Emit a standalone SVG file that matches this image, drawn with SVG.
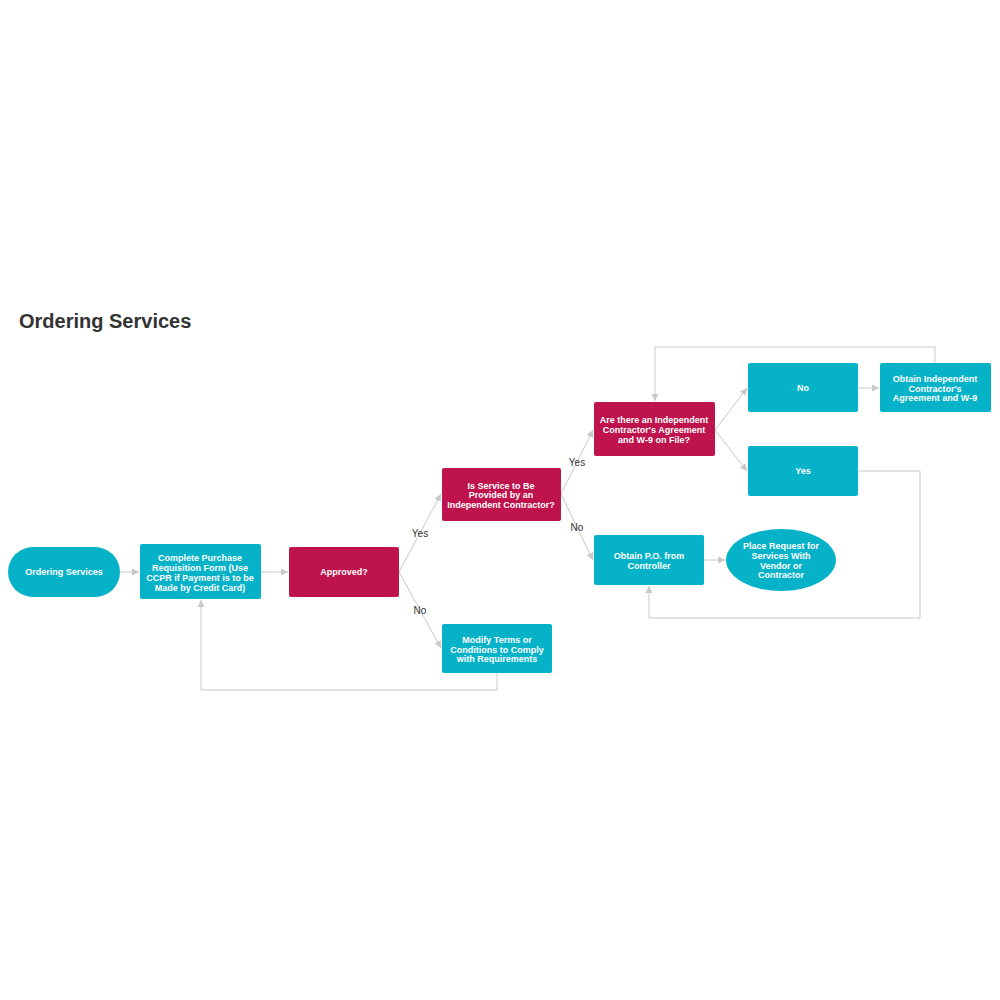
<svg xmlns="http://www.w3.org/2000/svg" width="1000" height="1000" viewBox="0 0 1000 1000">
<style>
.t{fill:#06b2c8}.c{fill:#be134d}
.lb{font-family:"Liberation Sans",Arial,sans-serif;font-size:9px;font-weight:bold;fill:#fff;text-anchor:middle}
.el{font-family:"Liberation Sans",Arial,sans-serif;font-size:10px;fill:#333;text-anchor:middle}
.ln{fill:none;stroke:#c8c8c8;stroke-width:1;marker-end:url(#a)}
</style>
<defs><marker id="a" markerWidth="8" markerHeight="8" refX="7" refY="4" orient="auto" markerUnits="userSpaceOnUse"><path d="M0,0.5 L7,4 L0,7.5z" fill="#c8c8c8"/></marker></defs>
<rect width="1000" height="1000" fill="#fff"/>
<text x="19" y="328" font-family="Liberation Sans,Arial,sans-serif" font-size="20" font-weight="bold" fill="#333">Ordering Services</text>
<g id="connectors">
<path class="ln" d="M120,572 H139"/>
<path class="ln" d="M261,572 H288"/>
<path class="ln" d="M399,572 L441,494"/>
<path class="ln" d="M399,572 L441,648"/>
<path class="ln" d="M497,673 V690 H201 V600"/>
<path class="ln" d="M561,494 L593,430"/>
<path class="ln" d="M561,494 L593,560"/>
<path class="ln" d="M715,430 L747,388"/>
<path class="ln" d="M715,430 L747,471"/>
<path class="ln" d="M858,388 H879"/>
<path class="ln" d="M935,363 V347 H655 V401"/>
<path class="ln" d="M858,471 H920 V618 H649 V586"/>
<path class="ln" d="M704,560 H725"/>
<text class="el" x="420" y="537">Yes</text>
<text class="el" x="420" y="614">No</text>
<text class="el" x="577" y="466">Yes</text>
<text class="el" x="577" y="531">No</text>
</g>
<g id="start"><rect class="t" x="8" y="547" width="112" height="50" rx="25"/><text class="lb" x="64" y="575">Ordering Services</text></g>
<g id="complete"><rect class="t" x="140" y="544" width="121" height="55" rx="2"/><text class="lb" x="200" y="561">Complete Purchase</text><text class="lb" x="200" y="571">Requisition Form (Use</text><text class="lb" x="200" y="581">CCPR if Payment is to be</text><text class="lb" x="200" y="591">Made by Credit Card)</text></g>
<g id="approved"><rect class="c" x="289" y="547" width="110" height="50" rx="2"/><text class="lb" x="344" y="575">Approved?</text></g>
<g id="isservice"><rect class="c" x="442" y="468" width="119" height="53" rx="2"/><text class="lb" x="501" y="489">Is Service to Be</text><text class="lb" x="501" y="498">Provided by an</text><text class="lb" x="501" y="508">Independent Contractor?</text></g>
<g id="modify"><rect class="t" x="442" y="624" width="110" height="49" rx="2"/><text class="lb" x="497" y="643">Modify Terms or</text><text class="lb" x="497" y="653">Conditions to Comply</text><text class="lb" x="497" y="662">with Requirements</text></g>
<g id="arethere"><rect class="c" x="594" y="402" width="121" height="54" rx="2"/><text class="lb" x="654" y="423">Are there an Independent</text><text class="lb" x="654" y="433">Contractor's Agreement</text><text class="lb" x="654" y="443">and W-9 on File?</text></g>
<g id="no"><rect class="t" x="748" y="363" width="110" height="49" rx="2"/><text class="lb" x="803" y="391">No</text></g>
<g id="obtainic"><rect class="t" x="880" y="363" width="111" height="49" rx="2"/><text class="lb" x="935" y="382">Obtain Independent</text><text class="lb" x="935" y="392">Contractor's</text><text class="lb" x="935" y="401">Agreement and W-9</text></g>
<g id="yes"><rect class="t" x="748" y="446" width="110" height="50" rx="2"/><text class="lb" x="803" y="474">Yes</text></g>
<g id="obtainpo"><rect class="t" x="594" y="535" width="110" height="50" rx="2"/><text class="lb" x="649" y="559">Obtain P.O. from</text><text class="lb" x="649" y="569">Controller</text></g>
<g id="place"><ellipse class="t" cx="781" cy="560" rx="55" ry="31"/><text class="lb" x="781" y="549">Place Request for</text><text class="lb" x="781" y="559">Services With</text><text class="lb" x="781" y="569">Vendor or</text><text class="lb" x="781" y="578">Contractor</text></g>
</svg>
